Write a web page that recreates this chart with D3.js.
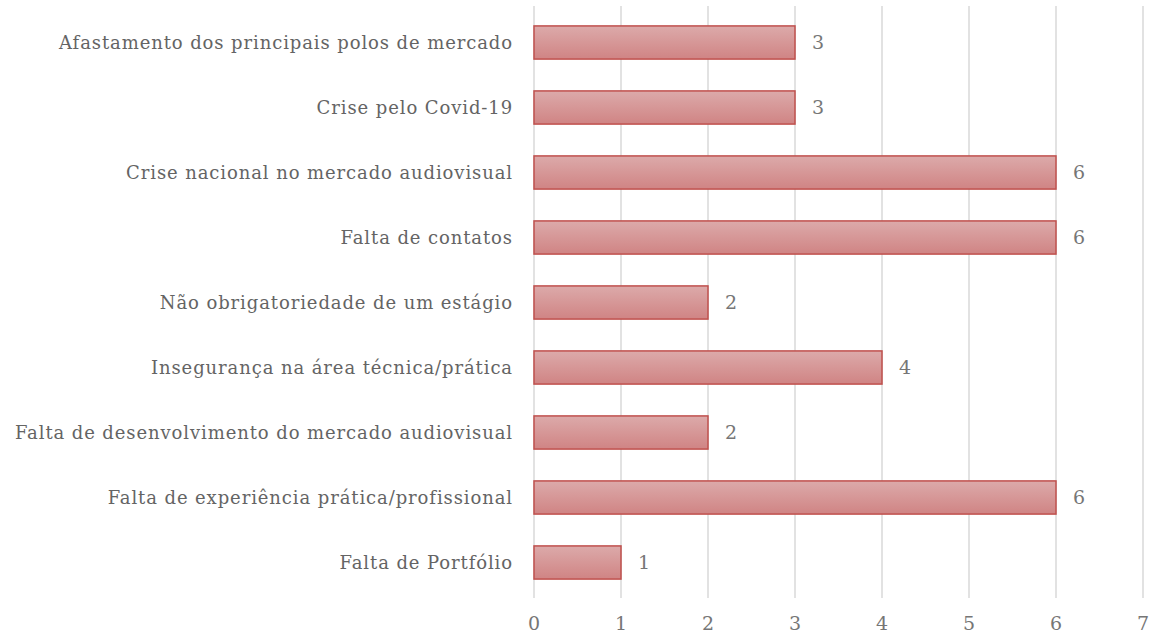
<!DOCTYPE html>
<html>
<head>
<meta charset="utf-8">
<script src="https://cdn.jsdelivr.net/npm/d3@7"></script>
<style>
  body { margin: 0; background: #fff; }
  text { font-family: "DejaVu Serif", "Liberation Serif", serif; fill: #646464; }
</style>
</head>
<body>
<svg id="chart"></svg>
<script>
var categories = [
    "Afastamento dos principais polos de mercado",
    "Crise pelo Covid-19",
    "Crise nacional no mercado audiovisual",
    "Falta de contatos",
    "Não obrigatoriedade de um estágio",
    "Insegurança na área técnica/prática",
    "Falta de desenvolvimento do mercado audiovisual",
    "Falta de experiência prática/profissional",
    "Falta de Portfólio"
];
var values = [3, 3, 6, 6, 2, 4, 2, 6, 1];
var xTicks = [0, 1, 2, 3, 4, 5, 6, 7];

var width = 1149, height = 633;
var margin = { top: 10, left: 534, bottom: 38, right: 6 };

var svg = d3.select("#chart")
            .attr("width", width)
            .attr("height", height);

var x = d3.scaleLinear()
          .domain([0, 7])
          .range([margin.left, width - margin.right]);

var y = d3.scaleBand()
          .domain(categories)
          .range([margin.top, height - margin.bottom])
          .paddingInner(0.49)
          .paddingOuter(0.245);

// bar gradient
var grad = svg.append("defs").append("linearGradient")
              .attr("id", "barFill")
              .attr("x1", 0).attr("y1", 0).attr("x2", 0).attr("y2", 1);
grad.append("stop").attr("offset", "0%").attr("stop-color", "#dcaaaa");
grad.append("stop").attr("offset", "100%").attr("stop-color", "#d08484");

// vertical gridlines
svg.append("g")
   .selectAll("line")
   .data(xTicks)
   .enter()
   .append("line")
   .attr("x1", function (d) { return x(d); })
   .attr("x2", function (d) { return x(d); })
   .attr("y1", margin.top - 4)
   .attr("y2", height - margin.bottom + 3)
   .attr("stroke", "#d9d9d9")
   .attr("stroke-width", 1.5);

// x tick labels
svg.append("g")
   .selectAll("text")
   .data(xTicks)
   .enter()
   .append("text")
   .attr("x", function (d) { return x(d); })
   .attr("y", 630)
   .attr("text-anchor", "middle")
   .style("font-size", "19px")
   .style("fill", "#767676")
   .text(function (d) { return d; });

// bars
svg.append("g")
   .selectAll("rect")
   .data(values)
   .enter()
   .append("rect")
   .attr("x", x(0))
   .attr("y", function (d, i) { return y(categories[i]); })
   .attr("width", function (d) { return x(d) - x(0); })
   .attr("height", y.bandwidth())
   .attr("fill", "url(#barFill)")
   .attr("stroke", "#c0504d")
   .attr("stroke-width", 1.5);

// value labels
svg.append("g")
   .selectAll("text")
   .data(values)
   .enter()
   .append("text")
   .attr("x", function (d) { return x(d) + 17; })
   .attr("y", function (d, i) { return y(categories[i]) + y.bandwidth() / 2; })
   .attr("dy", "0.35em")
   .style("font-size", "19px")
   .style("fill", "#767676")
   .text(function (d) { return d; });

// category labels
svg.append("g")
   .selectAll("text")
   .data(categories)
   .enter()
   .append("text")
   .attr("x", 513)
   .attr("y", function (d) { return y(d) + y.bandwidth() / 2; })
   .attr("dy", "0.35em")
   .attr("text-anchor", "end")
   .style("font-size", "18px")
   .style("letter-spacing", "0.9px")
   .text(function (d) { return d; });
</script>
</body>
</html>
